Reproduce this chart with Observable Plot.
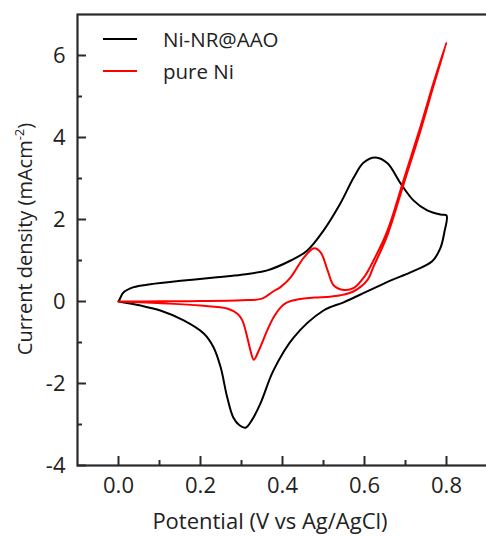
<!DOCTYPE html>
<html>
<head>
<meta charset="utf-8">
<script src="https://cdn.jsdelivr.net/npm/d3@7"></script>
<script src="https://cdn.jsdelivr.net/npm/@observablehq/plot@0.6"></script>
<style>
  html, body { margin: 0; padding: 0; background: #fff; overflow: hidden; }
  #wrap { position: relative; width: 486px; height: 537px; font-family: "Open Sans", sans-serif; }
  #legend { position: absolute; left: 103px; top: 23px; }
  .item { display: flex; align-items: center; height: 32px; font-size: 20.5px; color: #222; }
  .item svg { margin-right: 26px; }
</style>
</head>
<body>
<div id="wrap"><div id="chart"></div><div id="legend"></div></div>
<script>
const seriesNames = ["Ni-NR@AAO", "pure Ni"];
const seriesColors = ["#000000", "#ff0000"];

// Ni-NR@AAO CV loop: potential (V), current density (mA cm^-2)
const niNrV = [0, 0.005, 0.012, 0.037, 0.078, 0.159, 0.24, 0.3, 0.363, 0.42, 0.46, 0.5, 0.541, 0.574, 0.598, 0.627, 0.656, 0.688, 0.72, 0.753, 0.785, 0.8,
  0.795, 0.785, 0.765, 0.712, 0.663, 0.605, 0.549, 0.5, 0.427, 0.378, 0.346, 0.325, 0.31, 0.295, 0.28, 0.265, 0.249, 0.232, 0.208, 0.159, 0.102, 0.054, 0];
const niNrI = [0, 0.1, 0.22, 0.35, 0.42, 0.51, 0.59, 0.65, 0.76, 1.0, 1.24, 1.73, 2.39, 3.03, 3.39, 3.51, 3.37, 2.88, 2.46, 2.22, 2.12, 2.1,
  1.7, 1.3, 0.98, 0.71, 0.51, 0.24, -0.02, -0.22, -0.88, -1.68, -2.49, -2.9, -3.08, -3.02, -2.83, -2.33, -1.6, -1.12, -0.78, -0.46, -0.22, -0.1, 0];

// pure Ni CV loop
const pureV = [0, 0.1, 0.2, 0.3, 0.35, 0.378, 0.395, 0.42, 0.452, 0.477, 0.493, 0.51, 0.525, 0.55, 0.574, 0.598, 0.622, 0.656, 0.695, 0.736, 0.768, 0.8,
  0.768, 0.736, 0.695, 0.656, 0.622, 0.607, 0.574, 0.541, 0.507, 0.485, 0.436, 0.41, 0.395, 0.378, 0.363, 0.342, 0.33, 0.322, 0.314, 0.302, 0.29, 0.265, 0.2, 0.119, 0];
const pureI = [0, 0.005, 0.01, 0.03, 0.07, 0.25, 0.35, 0.59, 1.07, 1.3, 1.2, 0.76, 0.39, 0.28, 0.33, 0.58, 1.0, 1.73, 2.95, 4.25, 5.32, 6.32,
  5.25, 4.15, 2.85, 1.62, 0.85, 0.52, 0.25, 0.15, 0.11, 0.1, 0.05, -0.03, -0.15, -0.39, -0.7, -1.2, -1.42, -1.2, -0.87, -0.46, -0.3, -0.17, -0.1, -0.05, 0];

const xMajor = [0, 0.2, 0.4, 0.6, 0.8];
const xMinor = [0.1, 0.3, 0.5, 0.7];
const yMajor = [-4, -2, 0, 2, 4, 6];
const yMinor = [-3, -1, 1, 3, 5];
const xTitle = "Potential (V vs Ag/AgCl)";

const niNr = niNrV.map((v, i) => ({v, i: niNrI[i]}));
const pure = pureV.map((v, i) => ({v, i: pureI[i]}));

const W = 486, H = 537, mL = 77, mR = -1, mT = 14, mB = 72;
const fw = W - mL - mR, fh = H - mT - mB;
const axisColor = "#2a2a2a";
const chart = Plot.plot({
  width: W,
  height: H,
  marginLeft: mL,
  marginRight: mR,
  marginTop: mT,
  marginBottom: mB,
  style: {fontFamily: "Open Sans, sans-serif", background: "white", overflow: "visible"},
  x: {domain: [-0.1, 0.9], label: null},
  y: {domain: [-4, 7], label: null},
  marks: [
    Plot.line(niNr, {x: "v", y: "i", stroke: seriesColors[0], strokeWidth: 2, curve: "catmull-rom"}),
    Plot.line(pure, {x: "v", y: "i", stroke: seriesColors[1], strokeWidth: 2, curve: "catmull-rom"}),
    // inward tick marks
    Plot.ruleX(xMajor, {x: d => d, insetTop: fh - 9, stroke: axisColor, strokeWidth: 2}),
    Plot.ruleX(xMinor, {x: d => d, insetTop: fh - 5, stroke: axisColor, strokeWidth: 2}),
    Plot.ruleY(yMajor, {y: d => d, insetRight: fw - 9, stroke: axisColor, strokeWidth: 2}),
    Plot.ruleY(yMinor, {y: d => d, insetRight: fw - 5, stroke: axisColor, strokeWidth: 2}),
    Plot.frame({stroke: axisColor, strokeWidth: 2.2}),
    Plot.axisX({ticks: xMajor, tickSize: 0, tickPadding: 12, tickFormat: d3.format(".1f"), fontSize: 22, fill: "#222", label: null}),
    Plot.axisY({ticks: yMajor, tickSize: 0, tickPadding: 12, tickFormat: d => d, fontSize: 22, fill: "#222", label: null})
  ]
});
document.getElementById("chart").appendChild(chart);

// Axis titles as text inside the SVG
const svg = d3.select(chart);
svg.append("text")
  .attr("x", 270).attr("y", 529)
  .attr("text-anchor", "middle")
  .attr("font-size", 22).attr("fill", "#222")
  .text(xTitle);
const yt = svg.append("text")
  .attr("transform", "translate(32,239) rotate(-90)")
  .attr("text-anchor", "middle")
  .attr("font-size", 20).attr("fill", "#222");
yt.append("tspan").text("Current density (mAcm");
yt.append("tspan").attr("font-size", 13).attr("dy", -8).text("-2");
yt.append("tspan").attr("dy", 8).text(")");

// Legend
const legend = document.getElementById("legend");
seriesNames.forEach((name, k) => {
  const row = document.createElement("div");
  row.className = "item";
  row.innerHTML = `<svg width="34" height="4"><line x1="0" x2="34" y1="2" y2="2" stroke="${seriesColors[k]}" stroke-width="2"/></svg><span>${name}</span>`;
  legend.appendChild(row);
});
</script>
</body>
</html>
